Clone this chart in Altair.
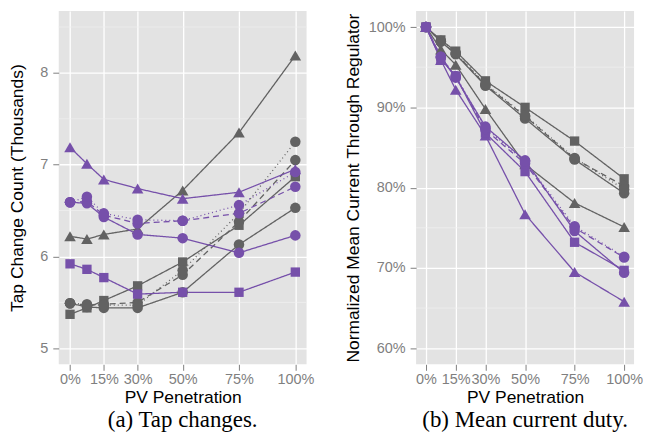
import altair as alt
import pandas as pd

# ---- data -------------------------------------------------------------
pv = [0, 7.5, 15, 30, 50, 75, 100]
x_ticks = [0, 15, 30, 50, 75, 100]

series_ids = ["g_tri", "g_sq", "g_circ", "g_circ_dash", "g_circ_dot",
              "p_tri", "p_sq", "p_circ", "p_circ_dash", "p_circ_dot"]
series_group = ["gray"] * 5 + ["purple"] * 5
series_shape = ["triangle", "square", "circle", "circle", "circle"] * 2
series_line = ["solid", "solid", "solid", "dashed", "dotted"] * 2

# (a) tap change count, thousands
tap_g_tri = [6.22, 6.19, 6.24, 6.30, 6.72, 7.35, 8.19]
tap_g_sq = [5.37, 5.44, 5.52, 5.68, 5.94, 6.34, 6.87]
tap_g_circ = [5.49, 5.45, 5.44, 5.44, 5.61, 6.13, 6.53]
tap_g_circ_dash = [5.49, 5.47, 5.48, 5.50, 5.80, 6.38, 7.05]
tap_g_circ_dot = [5.49, 5.48, 5.47, 5.47, 5.85, 6.47, 7.25]
tap_p_tri = [7.19, 7.01, 6.84, 6.74, 6.63, 6.70, 6.95]
tap_p_sq = [5.92, 5.86, 5.77, 5.59, 5.61, 5.61, 5.83]
tap_p_circ = [6.59, 6.58, 6.43, 6.24, 6.20, 6.04, 6.23]
tap_p_circ_dash = [6.59, 6.60, 6.45, 6.36, 6.39, 6.47, 6.76]
tap_p_circ_dot = [6.59, 6.65, 6.47, 6.40, 6.39, 6.56, 6.92]

# (b) normalized mean current, percent
cur_g_tri = [100, 97.2, 95.3, 89.8, 82.9, 78.1, 75.1]
cur_g_sq = [100, 98.4, 97.0, 93.3, 90.0, 85.8, 81.1]
cur_g_circ = [100, 98.2, 96.6, 92.7, 88.6, 83.5, 79.3]
cur_g_circ_dash = [100, 98.2, 96.7, 92.8, 88.9, 83.6, 80.2]
cur_g_circ_dot = [100, 98.3, 96.8, 92.9, 89.0, 83.7, 79.8]
cur_p_tri = [100, 95.9, 92.2, 86.5, 76.7, 69.5, 65.8]
cur_p_sq = [100, 96.0, 93.9, 86.8, 82.0, 73.2, 69.7]
cur_p_circ = [100, 96.2, 93.7, 87.6, 83.4, 74.6, 69.4]
cur_p_circ_dash = [100, 96.3, 93.8, 87.2, 83.0, 75.0, 71.3]
cur_p_circ_dot = [100, 96.3, 93.9, 87.4, 83.3, 75.2, 71.4]

tap_series = [tap_g_tri, tap_g_sq, tap_g_circ, tap_g_circ_dash, tap_g_circ_dot,
              tap_p_tri, tap_p_sq, tap_p_circ, tap_p_circ_dash, tap_p_circ_dot]
cur_series = [cur_g_tri, cur_g_sq, cur_g_circ, cur_g_circ_dash, cur_g_circ_dot,
              cur_p_tri, cur_p_sq, cur_p_circ, cur_p_circ_dash, cur_p_circ_dot]

tap_yticks = [5, 6, 7, 8]
tap_minor = [5.5, 6.5, 7.5, 8.5]
cur_yticks = [60, 70, 80, 90, 100]
cur_minor = [65, 75, 85, 95]


def long_table(values):
    rows = []
    for sid, grp, shp, lt, vals in zip(series_ids, series_group, series_shape,
                                       series_line, values):
        for xv, yv in zip(pv, vals):
            rows.append({"series": sid, "group": grp, "shape": shp,
                         "line": lt, "pv": xv, "val": yv})
    return pd.DataFrame(rows)


# ---- styling ----------------------------------------------------------
GRAY = "#626262"
PURPLE = "#7650AA"
SANS = "Liberation Sans"

color_scale = alt.Scale(domain=["gray", "purple"], range=[GRAY, PURPLE])
shape_scale = alt.Scale(domain=["triangle", "circle", "square"],
                        range=["triangle-up", "circle", "square"])
dash_scale = alt.Scale(domain=["solid", "dashed", "dotted"],
                       range=[[1, 0], [6, 4], [1, 3]])
size_scale = alt.Scale(domain=["triangle", "circle", "square"],
                       range=[135, 88, 92])


def panel(values, ydomain, yticks, minor, ytitle, ylabel_expr, caption,
          width, title_pad):
    df = long_table(values)
    xs = alt.Scale(domain=[-5, 105], nice=False, zero=False)
    ys = alt.Scale(domain=ydomain, nice=False, zero=False)
    x_axis = alt.Axis(values=x_ticks, labelExpr="datum.value + '%'",
                      title="PV Penetration", labelOverlap=False,
                      tickSize=6, labelPadding=2, titlePadding=3)
    y_axis = alt.Axis(values=yticks, labelExpr=ylabel_expr, title=ytitle,
                      labelOverlap=False, tickSize=6, labelPadding=5,
                      titlePadding=title_pad)

    minor_df = pd.DataFrame({"m": minor})
    minor_rules = alt.Chart(minor_df).mark_rule(
        color="#F0F0F0", strokeWidth=0.7
    ).encode(y=alt.Y("m:Q", scale=ys, axis=y_axis))

    lines = alt.Chart(df).mark_line(strokeWidth=1.3).encode(
        x=alt.X("pv:Q", scale=xs, axis=x_axis),
        y=alt.Y("val:Q", scale=ys, axis=y_axis),
        color=alt.Color("group:N", scale=color_scale, legend=None),
        strokeDash=alt.StrokeDash("line:N", scale=dash_scale, legend=None),
        detail="series:N",
        order="pv:Q",
    )
    points = alt.Chart(df).mark_point(filled=True, opacity=1,
                                      strokeWidth=0).encode(
        x=alt.X("pv:Q", scale=xs, axis=x_axis),
        y=alt.Y("val:Q", scale=ys, axis=y_axis),
        color=alt.Color("group:N", scale=color_scale, legend=None),
        shape=alt.Shape("shape:N", scale=shape_scale, legend=None),
        size=alt.Size("shape:N", scale=size_scale, legend=None),
    )
    return alt.layer(minor_rules, lines, points).properties(
        width=width, height=355,
        title=alt.TitleParams(text=caption, orient="bottom", anchor="middle",
                              frame="group", font="Liberation Serif",
                              fontSize=23, fontWeight="normal", offset=3,
                              color="black"),
    )


left = panel(tap_series, [4.825, 8.675], tap_yticks, tap_minor,
             "Tap Change Count (Thousands)", "datum.value",
             "(a) Tap changes.", 249, 13)
right = panel(cur_series, [58, 102], cur_yticks, cur_minor,
              "Normalized Mean Current Through Regulator",
              "datum.value + '%'", "(b) Mean current duty.", 219, 6)

chart = alt.hconcat(left, right, spacing=29).properties(
    padding={"left": 0, "top": 2, "right": 0, "bottom": 0},
    background="white",
).configure_view(
    fill="#E3E3E3", stroke=None
).configure_axis(
    grid=True, gridColor="white", gridWidth=1.3,
    domain=False, tickColor="#7F7F7F", tickWidth=1,
    labelColor="#7F7F7F", labelFont=SANS, labelFontSize=14.5,
    titleFont=SANS, titleFontSize=17.5, titleFontWeight="normal",
    titleColor="black",
)

chart.save("out.html", embed_options={"renderer": "svg", "actions": False})
